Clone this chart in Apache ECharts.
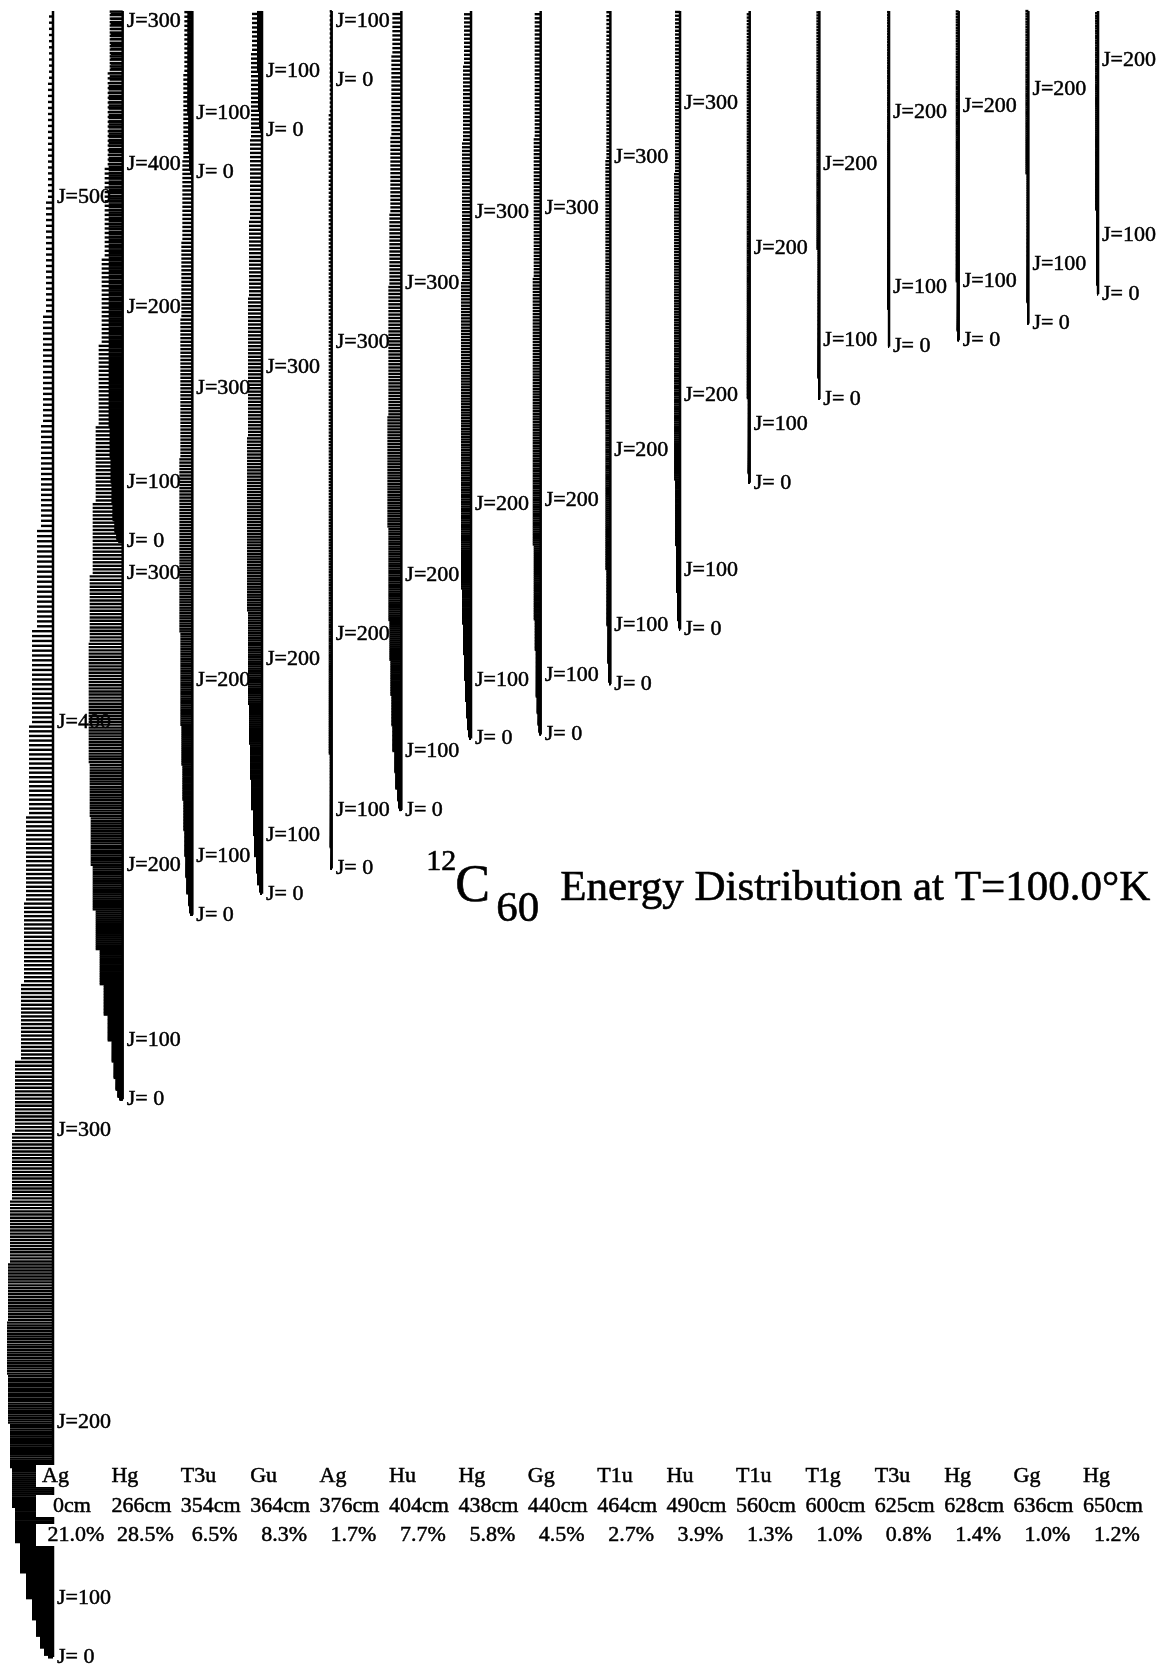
<!DOCTYPE html>
<html>
<head>
<meta charset="utf-8">
<title>12C60 Energy Distribution at T=100.0°K</title>
<script src="https://cdn.jsdelivr.net/npm/echarts/dist/echarts.min.js"></script>
<style>
  html, body { margin: 0; padding: 0; background: #fff; }
  #chart { width: 1160px; height: 1666px; }
</style>
</head>
<body>
<div id="chart"></div>
<script>
// Vibrational levels of 12C60 shown as columns, with their share of the population at 100 K
const modes  = ['Ag', 'Hg', 'T3u', 'Gu', 'Ag', 'Hu', 'Hg', 'Gg', 'T1u', 'Hu', 'T1u', 'T1g', 'T3u', 'Hg', 'Gg', 'Hg'];
const freqs  = [0, 266, 354, 364, 376, 404, 438, 440, 464, 490, 560, 600, 625, 628, 636, 650];   // cm-1
const shares = [21.0, 28.5, 6.5, 8.3, 1.7, 7.7, 5.8, 4.5, 2.7, 3.9, 1.3, 1.0, 0.8, 1.4, 1.0, 1.2]; // %

// Rotational populations (arbitrary units), one value per band of 20 J values
const popAg0    = [5, 9, 13, 17, 21, 27, 33, 38, 41, 43, 45, 46, 45, 43, 41, 38, 32, 29, 27, 24, 21, 16, 12, 10, 7, 5, 4];
const popHg266  = [3, 5, 7, 9, 11, 15, 19, 23, 27, 30, 32, 33, 34, 34, 33, 30, 27, 24, 21, 18, 15, 12];
const popT3u354 = [2, 3, 4, 6, 7, 8, 9, 10, 11, 12, 12, 13, 13, 13, 12, 12, 11, 10, 9, 8];
const popGu364  = [2, 3, 5, 6, 8, 9, 11, 12, 13, 14, 14, 15, 15, 15, 14, 14, 13, 12, 11, 10];
const popAg376  = [1, 1, 1, 2, 2, 2, 2, 3, 3, 3, 3, 3, 3, 3, 3, 3, 3, 3, 2, 2];
const popHu404  = [2, 3, 4, 6, 7, 9, 10, 11, 12, 13, 13, 14, 14, 13, 13, 12, 11, 10, 9];
const popHg438  = [2, 3, 4, 5, 6, 7, 8, 9, 10, 10, 10, 10, 10, 10, 9, 9, 8, 7];
const popGg440  = [1, 2, 3, 4, 5, 5, 6, 7, 7, 8, 8, 8, 8, 8, 7, 7, 6, 6];
const popT1u464 = [1, 2, 2, 3, 3, 4, 4, 5, 5, 5, 5, 5, 5, 5, 5, 4, 4, 4];
const popHu490  = [1, 2, 3, 3, 4, 4, 5, 5, 6, 6, 6, 6, 6, 6, 5, 5, 5];
const popT1u560 = [1, 1, 2, 2, 2, 2, 3, 3, 3, 3, 3, 3, 3, 3, 3];
const popT1g600 = [1, 1, 1, 2, 2, 2, 2, 2, 3, 3, 3, 3, 3];
const popT3u625 = [1, 1, 1, 1, 2, 2, 2, 2, 2, 2, 2, 2, 2];
const popHg628  = [1, 1, 2, 2, 2, 3, 3, 3, 3, 3, 3, 3];
const popGg636  = [1, 1, 1, 2, 2, 2, 2, 2, 3, 3, 3, 3];
const popHg650  = [1, 1, 2, 2, 2, 2, 3, 3, 3, 3, 3, 3];

// First overtones (2v) that still fall below the top of the energy window
const popHg532  = [4, 6, 8, 10, 11, 12, 13, 14, 14, 14, 14, 14, 14, 14, 13, 13];
const popT3u708 = [2, 3, 3, 4, 4, 5, 5, 5, 5];
const popGu728  = [2, 3, 3, 4, 4, 5, 5, 5];
const popAg752  = [1, 1, 1, 1, 1, 1];

const fundamentalPops = [popAg0, popHg266, popT3u354, popGu364, popAg376, popHu404, popHg438, popGg440,
                         popT1u464, popHu490, popT1u560, popT1g600, popT3u625, popHg628, popGg636, popHg650];
const overtonePops = { 1: popHg532, 2: popT3u708, 3: popGu728, 4: popAg752 };

// J values that get a label next to each column
const jMarks = [0, 100, 200, 300, 400, 500];

const B = 0.00278;      // rotational constant of C60, cm-1
const E_MAX = 785;      // top of the energy window, cm-1
const J_BAND = 20;      // J values per population entry

// Column layout (px along the x axis)
const COL_X0 = 53;
const COL_STEP = 69.67;
const TABLE_X0 = 36;
const TABLE_STEP = 69.4;
const TABLE_ROWS_Y = [1476, 1506, 1535];
const INK = '#000';
const SERIF = '"Liberation Serif", "Times New Roman", serif';

function levelEnergy(ev, J) { return ev + B * J * (J + 1); }

function labelStyle(text, size) {
  return { text: text, fill: INK, font: size + 'px ' + SERIF,
           stroke: INK, lineWidth: 0.5,
           textAlign: 'left', textVerticalAlign: 'middle', align: 'left', verticalAlign: 'middle' };
}

// Build one custom series per column: spine, rotational bars, J labels
function columnSeries(col) {
  const x0 = COL_X0 + COL_STEP * col;
  const states = [{ ev: freqs[col], pops: fundamentalPops[col] }];
  if (overtonePops[col]) states.push({ ev: 2 * freqs[col], pops: overtonePops[col] });

  const data = [[0, freqs[col], 0, 0]];
  states.forEach(s => s.pops.forEach((p, k) => data.push([1, s.ev, k * J_BAND, p])));
  states.forEach(s => jMarks.forEach(J => {
    if (levelEnergy(s.ev, J) <= E_MAX) data.push([2, s.ev, J, 0]);
  }));

  return {
    type: 'custom',
    name: modes[col] + ' ' + freqs[col],
    coordinateSystem: 'cartesian2d',
    silent: true,
    animation: false,
    data: data,
    renderItem: function (params, api) {
      const kind = api.value(0), ev = api.value(1), j = api.value(2), pop = api.value(3);
      if (kind === 0) {
        const a = api.coord([x0, ev]);
        const b = api.coord([x0, E_MAX]);
        return { type: 'line', shape: { x1: a[0], y1: a[1], x2: b[0], y2: b[1] },
                 style: { stroke: INK, lineWidth: 2.5 } };
      }
      if (kind === 1) {
        const children = [];
        for (let J = j; J < j + J_BAND; J++) {
          const e = levelEnergy(ev, J);
          if (e > E_MAX) break;
          const r = api.coord([x0, e]);
          const l = api.coord([x0 - pop, e]);
          children.push({ type: 'line', shape: { x1: l[0], y1: r[1], x2: r[0], y2: r[1] },
                          style: { stroke: INK, lineWidth: 2.4 } });
        }
        return { type: 'group', children: children };
      }
      const p = api.coord([x0, levelEnergy(ev, j)]);
      return {
        type: 'text', x: p[0] + 4, y: Math.max(p[1], 21),
        style: labelStyle(j === 0 ? 'J= 0' : 'J=' + j, 22)
      };
    }
  };
}

// Mode name, frequency and share printed below the columns
const tableSeries = {
  type: 'custom',
  coordinateSystem: 'cartesian2d',
  silent: true,
  animation: false,
  data: modes.map((m, i) => [i, freqs[i], shares[i]]),
  renderItem: function (params, api) {
    const i = api.value(0);
    const x = TABLE_X0 + TABLE_STEP * i;
    const rows = [
      modes[i],
      (freqs[i] < 10 ? '  ' : '') + freqs[i] + 'cm',
      ' ' + shares[i].toFixed(1).padStart(4, ' ') + '%'
    ];
    return {
      type: 'group',
      children: rows.map((t, r) => {
        const st = labelStyle(t, 22);
        st.backgroundColor = '#fff';
        st.padding = [0, 2, 0, 6];
        return { type: 'text', x: x, y: TABLE_ROWS_Y[r], style: st };
      })
    };
  }
};

const titleStyle = (text, size) => ({ text: text, fill: INK, font: size + 'px ' + SERIF, stroke: INK, lineWidth: 0.6 });

const chart = echarts.init(document.getElementById('chart'), null, { renderer: 'canvas' });
chart.setOption({
  backgroundColor: '#fff',
  animation: false,
  grid: { left: 0, right: 0, top: 11, bottom: 9 },
  xAxis: { type: 'value', min: 0, max: 1160, show: false },
  yAxis: { type: 'value', min: 0, max: E_MAX, show: false },
  series: modes.map((m, i) => columnSeries(i)).concat([tableSeries]),
  graphic: [
    { type: 'text', left: 426, top: 847, z: 100, style: titleStyle('12', 30) },
    { type: 'text', left: 455, top: 861, z: 100, style: titleStyle('C', 52) },
    { type: 'text', left: 496, top: 888, z: 100, style: titleStyle('60', 43) },
    { type: 'text', left: 560, top: 867, z: 100, style: titleStyle('Energy Distribution at T=100.0°K', 43) }
  ]
});
</script>
</body>
</html>
